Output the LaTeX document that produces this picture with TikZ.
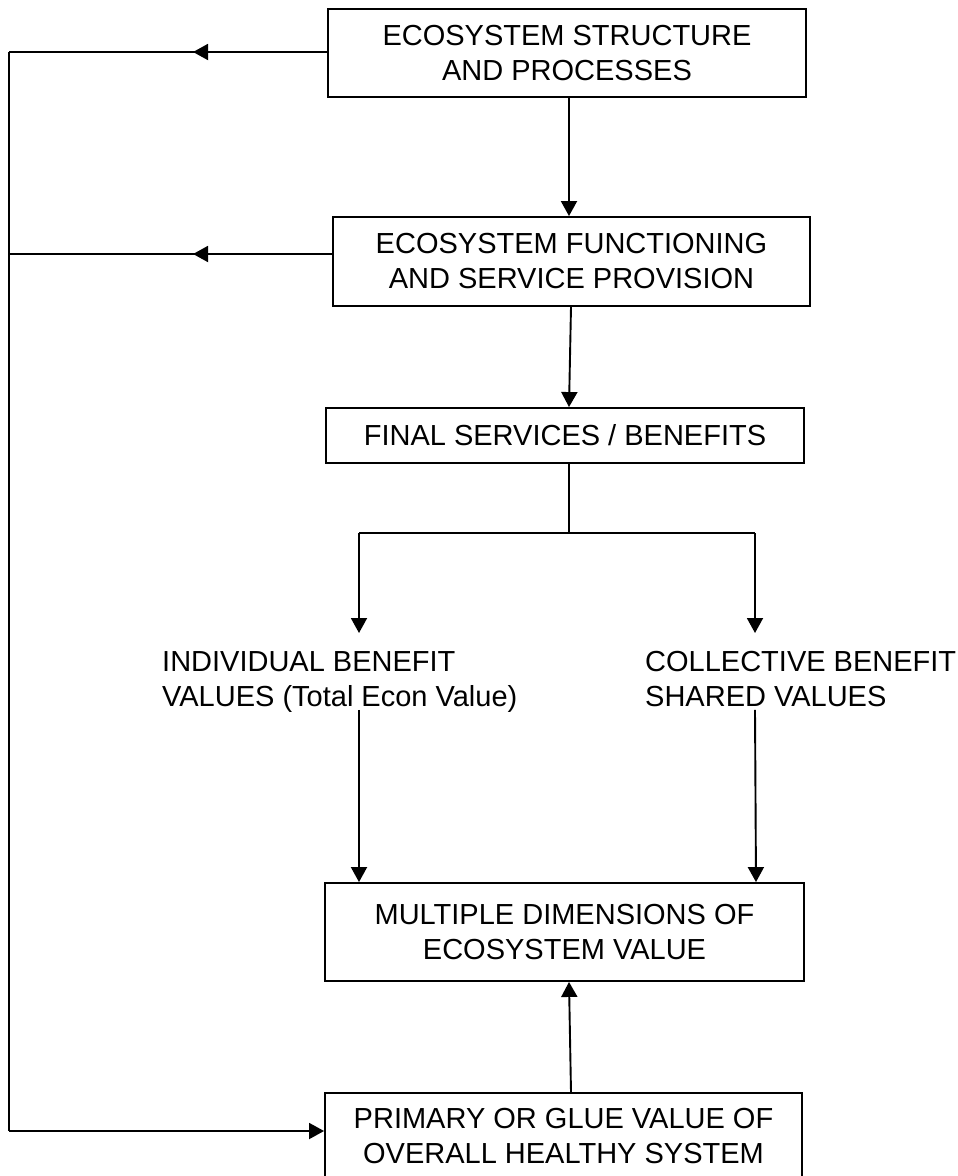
\documentclass[tikz,border=0pt]{standalone}
\usepackage{fontspec}
\setmainfont{Liberation Sans}
\usetikzlibrary{arrows.meta,decorations.markings}
\tikzset{
  box/.style={draw, line width=1.9pt, rectangle, inner sep=0pt, align=center,
    font=\fontsize{29}{35}\selectfont},
  lbl/.style={inner sep=0pt, align=left, font=\fontsize{29}{35}\selectfont},
  ln/.style={line width=1.9pt},
  arr/.style={ln, -{Triangle[length=15pt,width=16pt]}},
  midarrow/.style={postaction={decorate}, decoration={markings,
    mark=at position #1 with {\arrow{Triangle[length=15pt,width=16pt]}}}}
}
\begin{document}
\begin{tikzpicture}[x=1pt,y=-1pt]
\useasboundingbox (0,0) rectangle (958,1176);
% boxes
\node[box, minimum width=478pt, minimum height=88pt] (n1) at (567,53) {ECOSYSTEM STRUCTURE\\AND PROCESSES};
\node[box, minimum width=477pt, minimum height=89pt] (n2) at (571.5,261.5) {ECOSYSTEM FUNCTIONING\\AND SERVICE PROVISION};
\node[box, minimum width=478pt, minimum height=55pt] (n3) at (565,435.5) {FINAL SERVICES / BENEFITS};
\node[box, minimum width=479pt, minimum height=98pt] (n4) at (564.5,932) {MULTIPLE DIMENSIONS OF\\ECOSYSTEM VALUE};
\node[box, minimum width=477pt, minimum height=86pt] (n5) at (563.5,1136) {PRIMARY OR GLUE VALUE OF\\OVERALL HEALTHY SYSTEM};
% free labels
\node[lbl, anchor=north west] (ind) at (162,651) {INDIVIDUAL BENEFIT\\VALUES (Total Econ Value)};
\node[lbl, anchor=north west] (col) at (645,651) {COLLECTIVE BENEFIT\\SHARED VALUES};
% helper coordinates
\coordinate (c1) at (9,52);
\coordinate (c2) at (9,254);
\coordinate (c3) at (9,1131);
\coordinate (sp) at (569,533);
\coordinate (lp) at (359,533);
\coordinate (rp) at (755,533);
\coordinate (t1) at (359,633);
\coordinate (t2) at (755,633);
% feedback loop
\draw[ln, midarrow=134pt] (n1.west |- c1) -- (c1);
\draw[ln, midarrow=139pt] (n2.west |- c2) -- (c2);
\draw[ln] (c1) -- (c3);
\draw[arr] (c3) -- (c3 -| n5.west);
% main chain
\draw[arr] ([xshift=2pt]n1.south) -- ([xshift=2pt]n1.south |- n2.north);
\draw[arr] ([xshift=-0.5pt]n2.south) -- ([xshift=4pt]n3.north);
\draw[ln] ([xshift=4pt]n3.south) -- (sp);
\draw[ln] (lp) -- (rp);
\draw[arr] (lp) -- (t1);
\draw[arr] (rp) -- (t2);
\draw[arr] ([yshift=-3pt]lp |- col.south) -- (lp |- n4.north);
\draw[arr] ([yshift=-3pt]rp |- col.south) -- ([xshift=1pt]rp |- n4.north);
\draw[arr] ([xshift=7.5pt]n5.north) -- ([xshift=4.5pt]n4.south);
\end{tikzpicture}
\end{document}
